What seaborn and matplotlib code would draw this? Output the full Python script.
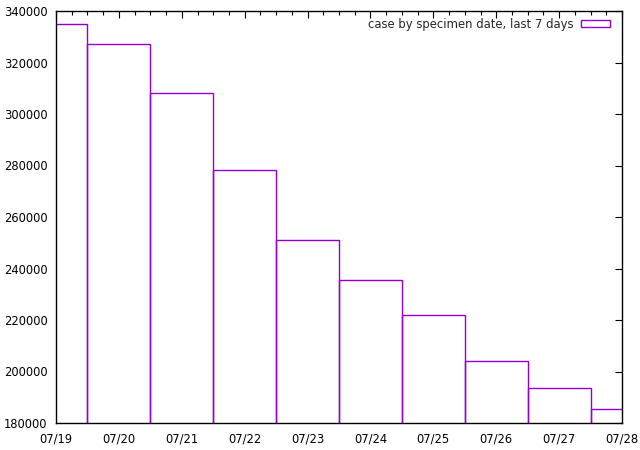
import matplotlib
matplotlib.use("Agg")
import matplotlib.pyplot as plt
import seaborn as sns
import pandas as pd
from matplotlib.patches import Patch
from matplotlib.ticker import MultipleLocator

dates = ["07/19", "07/20", "07/21", "07/22", "07/23", "07/24", "07/25", "07/26", "07/27", "07/28"]
cases = [335000, 327200, 308200, 278300, 251100, 235600, 222000, 204100, 193600, 185500]
yticks = [180000, 200000, 220000, 240000, 260000, 280000, 300000, 320000, 340000]
label = "case by specimen date, last 7 days"

df = pd.DataFrame({"date": dates, "cases": cases})

sns.set_style("white")
plt.rcParams["font.family"] = ["DejaVu Sans"]
color = "#9400D3"

fig = plt.figure(figsize=(6.4, 4.5), dpi=100)
ax = fig.add_axes([56/640, 27/450, (622-56)/640, (423-11)/450])
sns.barplot(data=df, x="date", y="cases", ax=ax, fill=False, width=1.0,
            edgecolor=color, linewidth=1.0, errorbar=None)
for p in ax.patches:
    p.set_edgecolor(color)
    p.set_linewidth(1.0)

ax.set_xlim(0, 9)
ax.set_ylim(180000, 340000)
ax.set_yticks(yticks)
ax.set_yticklabels([str(v) for v in yticks])
ax.set_xticks(range(len(dates)))
ax.set_xticklabels(dates)
ax.xaxis.set_minor_locator(MultipleLocator(0.25))
ax.set_xlabel("")
ax.set_ylabel("")
ax.tick_params(axis="both", which="both", direction="in", top=True, right=True,
               labelsize=8.3, colors="black")
ax.tick_params(axis="both", which="major", length=5, width=0.8)
ax.tick_params(axis="x", which="major", pad=7)
ax.tick_params(axis="y", which="major", pad=6)
ax.tick_params(axis="x", which="minor", length=3, width=0.8)
for s in ax.spines.values():
    s.set_color("black")
    s.set_linewidth(1.0)

handle = Patch(facecolor="none", edgecolor=color, linewidth=1.0)
ax.legend([handle], [label], loc="upper right", bbox_to_anchor=(0.991, 1.0),
          frameon=False, markerfirst=False,
          fontsize=8.4, handlelength=2.5, handleheight=0.55, handletextpad=0.6,
          borderaxespad=0.35, borderpad=0.25)

fig.savefig("out.png", dpi=100)
